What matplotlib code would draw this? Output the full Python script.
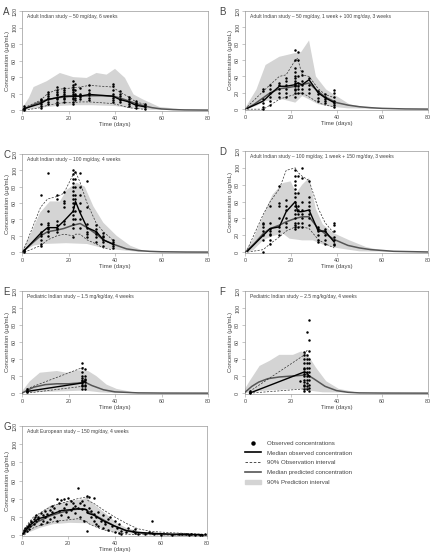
import numpy as np
import matplotlib.pyplot as plt
from matplotlib.lines import Line2D
from matplotlib.patches import Patch

plt.rcParams['font.family'] = ['Liberation Sans', 'DejaVu Sans']

# ---------------- panel A ----------------
a_hi_t = [0, 3, 5, 10.6, 16.3, 22, 27.8, 32, 36.4, 40, 44.3, 48, 52, 59, 69, 80]
a_hi = [2, 15, 28, 35, 45, 40, 39, 45, 43, 50, 39, 19, 13, 4, 1, 0]
a_lo_t = [0, 8, 15, 22, 30, 40, 48, 55, 80]
a_lo = [0, 3, 5, 6, 6, 5, 2, 0.5, 0]
a_pred_t = [0, 3, 6, 10, 15, 20, 25, 30, 35, 40, 44, 48, 52, 56, 60, 65, 70, 80]
a_pred = [0, 4, 8, 12, 15, 16.5, 17, 17.5, 17.5, 16.5, 13, 9, 5.5, 3, 1.5, 0.7, 0.3, 0.1]
a_obs_t = [1, 8, 11, 15, 18, 22, 25, 29, 39, 42, 46, 49, 53]
a_obs_med = [2, 8, 13, 15, 17, 17, 17, 19, 17, 13, 10, 6, 4]
a_obs_hi = [3, 12, 20, 25, 26, 27, 28, 30, 28, 22, 16, 10, 7]
a_obs_lo = [0, 3, 6, 8, 9, 9, 10, 10, 8, 6, 3, 2, 1]
a_points = {1: [0, 2, 3, 5], 8: [3, 5, 8, 10, 12, 13], 11: [8, 10, 13, 15, 17, 20, 22],
            15: [6, 8, 10, 13, 15, 18, 20, 22, 25, 28], 18: [10, 13, 15, 17, 19, 22, 25, 27],
            22: [8, 10, 13, 15, 17, 20, 22, 24, 26, 28, 30, 35], 23: [12, 15, 18, 20, 25, 32],
            25: [14, 16, 18, 20, 27], 29: [12, 15, 18, 21, 25, 30], 39: [10, 12, 15, 17, 20, 25, 29, 32],
            42: [10, 12, 14, 17, 20, 23], 46: [5, 8, 10, 13, 16], 49: [3, 5, 7, 9, 11], 53: [2, 4, 6, 8]}

# ---------------- panel B ----------------
b_hi_t = [0, 5, 9, 15, 21, 24.6, 28, 31, 35.5, 40, 45.7, 53, 60, 80]
b_hi = [1, 24, 54, 64, 68, 70, 84, 40, 24, 16, 6, 2, 1, 0]
b_lo_t = [0, 5, 9, 16.5, 22, 25, 28, 32, 38, 45, 80]
b_lo = [0, 4, 10, 12, 8, 16, 12, 6, 3, 1, 0]
b_pred_t = [0, 4, 8, 11, 15, 18, 22, 25, 28, 31, 35, 40, 45, 50, 55, 60, 70, 80]
b_pred = [0, 6, 14, 20, 25, 26, 28, 30, 32, 24, 15, 8, 5, 3, 1.8, 1, 0.3, 0.1]
b_obs_t = [1, 8, 11, 15, 18, 22, 23, 25, 28, 32, 35, 39]
b_obs_med = [1, 10, 18, 28, 28, 30, 32, 30, 36, 20, 14, 8]
b_obs_hi = [3, 22, 30, 40, 42, 60, 62, 42, 40, 25, 18, 14]
b_obs_lo = [0, 0, 5, 12, 15, 18, 19, 20, 15, 8, 5, 3]
b_points = {8: [0, 3, 8, 12, 22, 25], 11: [5, 10, 15, 20, 25, 30], 15: [15, 20, 25, 30, 32],
            18: [15, 20, 25, 30, 35, 38],
            22: [15, 20, 23, 25, 28, 30, 32, 35, 38, 40, 45, 50, 60, 72], 23: [20, 25, 28, 32, 40, 60, 70],
            25: [20, 25, 30, 35, 42, 47], 28: [20, 25, 30, 38], 32: [10, 14, 18, 22],
            35: [8, 10, 12, 15, 18], 39: [3, 5, 8, 10, 15, 20, 24]}

# ---------------- panel C ----------------
c_hi_t = [0, 3.4, 7.7, 12, 16.3, 19.2, 23.5, 27, 30.7, 35, 40.7, 46.5, 52, 60, 80]
c_hi = [2, 20, 48, 62, 62, 76, 85, 80, 56, 36, 20, 8, 2, 0.5, 0]
c_lo_t = [0, 5, 9, 19, 28, 33.5, 40.7, 50, 80]
c_lo = [0, 8, 10, 11, 10, 6, 3, 0.5, 0]
c_pred_t = [0, 4, 8, 11, 15, 18, 22, 25, 28, 32, 35, 39, 45, 50, 55, 60, 70, 80]
c_pred = [0, 10, 20, 25, 27, 29, 33, 35, 30, 22, 15, 10, 4, 2, 1, 0.5, 0.2, 0.1]
c_obs_t = [1, 8, 11, 15, 18, 22, 23, 24, 25, 28, 32, 35, 39]
c_obs_med = [2, 23, 30, 30, 38, 50, 62, 55, 48, 30, 25, 15, 10]
c_obs_hi = [5, 55, 65, 68, 72, 95, 98, 92, 85, 60, 35, 25, 15]
c_obs_lo = [0, 8, 15, 20, 22, 20, 22, 22, 22, 15, 10, 5, 3]
c_points = {1: [0, 2, 3], 8: [7, 10, 15, 20, 22, 25, 35, 70], 11: [20, 25, 28, 30, 33, 36, 50, 97],
            15: [25, 28, 30, 33, 38, 65, 70], 18: [35, 38, 55, 60, 62, 73],
            22: [18, 30, 35, 40, 45, 50, 55, 60, 65, 70, 75, 80, 85, 90, 95, 100],
            23: [40, 50, 60, 65, 70, 80, 90, 98], 25: [30, 40, 50, 60, 70, 80, 97],
            28: [18, 22, 25, 30, 35, 55, 87], 32: [12, 18, 22, 25, 28, 33],
            35: [8, 12, 15, 18, 20, 24], 39: [5, 8, 10, 12, 15]}

# ---------------- panel D ----------------
d_hi_t = [0, 3.5, 7.9, 12, 16.6, 20, 22.4, 25, 28, 31, 34, 38.4, 45.7, 53, 60, 70, 80]
d_hi = [1, 15, 43, 68, 82, 84, 70, 80, 88, 51, 33, 23, 14, 6, 2, 0.5, 0]
d_lo_t = [0, 3.5, 7.9, 12, 16.6, 19.5, 25, 29.7, 34, 40, 50, 80]
d_lo = [0, 2, 14, 19, 22, 16, 14, 14, 9, 5, 1, 0]
d_pred_t = [0, 1, 4, 8, 11, 15, 18, 22, 25, 28, 32, 35, 39, 45, 50, 55, 65, 80]
d_pred = [0, 2, 10, 22, 28, 32, 36, 40, 42, 42, 28, 22, 15, 8, 5, 3, 1, 0.2]
d_obs_t = [1, 8, 11, 15, 18, 22, 23, 25, 28, 32, 35, 39]
d_obs_med = [1, 20, 28, 30, 48, 60, 48, 48, 50, 25, 25, 12]
d_obs_hi = [3, 45, 60, 75, 97, 100, 95, 90, 85, 52, 35, 22]
d_obs_lo = [0, 3, 10, 18, 25, 30, 30, 30, 28, 15, 10, 5]
d_points = {8: [0, 15, 20, 25, 30, 33, 35], 11: [10, 15, 20, 22, 25, 28, 35, 55],
            15: [20, 25, 30, 40, 55, 58, 78], 18: [30, 35, 40, 50, 55, 62],
            22: [28, 30, 32, 35, 40, 45, 50, 55, 60, 65, 70, 75, 80, 85, 90, 97],
            23: [30, 35, 45, 50, 55, 70, 90], 25: [30, 35, 40, 45, 50, 60, 88, 100],
            28: [32, 40, 45, 50, 55, 60, 65, 85], 32: [12, 15, 20, 25, 28, 30],
            35: [10, 15, 20, 25, 28], 39: [8, 10, 15, 18, 25, 32, 35]}

# ---------------- panel E ----------------
e_hi_t = [0, 3.4, 7.7, 15, 19, 23.5, 28.5, 32, 36.4, 40.7, 48, 60, 80]
e_hi = [2, 14, 24, 26, 24, 27, 26, 20, 10, 5, 1, 0.2, 0]
e_lo_t = [0, 5, 15, 27, 33.5, 40, 80]
e_lo = [0, 1, 2, 3, 1, 0, 0]
e_pred_t = [0, 2, 5, 10, 15, 20, 25, 27, 30, 35, 40, 50, 60, 80]
e_pred = [0, 3, 7, 10, 11, 11, 12, 13, 9, 4, 1.5, 0.3, 0.1, 0]
e_obs_t = [2, 26, 27]
e_obs_med = [2, 12, 14]
e_obs_hi = [5, 30, 30]
e_obs_lo = [0, 8, 8]
e_points = {2: [1, 2, 3, 5], 26: [5, 8, 10, 12, 14, 16, 18, 20, 25, 30, 35],
            27: [5, 8, 10, 13, 15, 17, 20, 28]}

# ---------------- panel F ----------------
f_hi_t = [0, 2, 6.4, 10.8, 15, 21, 24.6, 27.5, 31, 35.5, 41, 48.6, 60, 80]
f_hi = [5, 14, 32, 38, 45, 45, 49, 45, 30, 14, 5, 1, 0.2, 0]
f_lo_t = [0, 2, 9, 24, 28, 34, 80]
f_lo = [0, 1, 3, 5, 3, 1, 0]
f_pred_t = [0, 3, 6, 10, 15, 20, 25, 27, 30, 35, 40, 45, 50, 60, 80]
f_pred = [1, 8, 13, 17, 19, 20, 21, 22, 17, 8, 3, 1, 0.3, 0.1, 0]
f_obs_t = [2, 26, 27, 28]
f_obs_med = [0, 25, 24, 20]
f_obs_hi = [2, 45, 50, 50]
f_obs_lo = [0, 5, 5, 4]
f_points = {2: [0, 1, 2], 24: [14], 26: [3, 5, 8, 10, 13, 15, 20, 22, 25, 28, 30, 35, 40, 45, 48],
            27: [5, 8, 12, 15, 20, 25, 30, 35, 40, 45, 72],
            28: [3, 6, 10, 15, 20, 25, 30, 35, 40, 50, 62, 86]}

# ---------------- panel G ----------------
g_hi_t = [0, 3.5, 7.8, 12, 16.4, 20.7, 25, 28, 32, 36.5, 40.9, 45, 51, 59.6, 70, 80]
g_hi = [2, 12, 24, 32, 35, 38, 39, 41, 32, 23, 13.5, 8, 4, 2, 0.7, 0.3]
g_lo_t = [0, 2, 7.8, 13.5, 20.7, 28, 33.5, 39, 45, 55, 80]
g_lo = [0, 2, 8, 12, 13.5, 13, 8, 4, 2, 0.5, 0]
g_pred_t = [0, 3, 7, 12, 17, 22, 27, 30, 35, 40, 45, 50, 55, 60, 70, 80]
g_pred = [0, 8, 15, 21, 25, 28, 29, 24, 17, 10, 5, 2.5, 1.5, 0.8, 0.3, 0.1]
g_obs_t = [1, 3, 5, 7, 10, 14, 17, 21, 24, 28, 28.5, 31, 35, 40, 45, 50, 56, 65, 70, 78]
g_obs_med = [3, 10, 14, 18, 20, 24, 27, 28, 29, 28, 24, 22, 16, 10, 5, 3, 2, 1, 1, 0.5]
g_obs_hi = [6, 14, 20, 23, 28, 33, 35, 38, 40, 42, 38, 35, 28, 20, 13, 7, 4, 2.5, 2, 1]
g_obs_lo = [0, 5, 8, 10, 12, 15, 16, 17, 18, 15, 13, 10, 6, 3, 1, 0.5, 0.3, 0, 0, 0]
g_pts_t = [0.5, 1, 1, 1.5, 2, 2, 2.5, 3, 3, 3.5, 4, 4, 5, 5, 5.5, 6, 6, 7, 7, 8, 8, 9, 9, 10, 10,
           11, 11, 12, 12, 13, 13, 14, 14, 15, 15, 16, 16, 17, 17, 18, 18, 19, 19, 20, 20, 21, 21,
           22, 22, 23, 23, 24, 24, 25, 25, 26, 26, 27, 27, 28, 28, 28, 29, 29, 30, 30, 31, 31, 31,
           32, 32, 33, 33, 34, 35, 35, 36, 36, 37, 37, 38, 39, 40, 40, 41, 42, 42, 43, 43, 45, 46,
           48, 49, 49, 50, 53, 55, 56, 56, 57, 60, 65, 68, 69, 71, 72, 73, 75, 77, 78, 79]
g_pts_c = [2, 4, 6, 8, 5, 9, 10, 7, 12, 10, 14, 16, 12, 18, 20, 15, 22, 18, 20, 12, 24, 16, 22, 20, 26,
           14, 23, 18, 28, 25, 32, 20, 30, 15, 40, 26, 35, 22, 39, 30, 40, 25, 34, 20, 41, 28, 38,
           30, 35, 24, 32, 52, 30, 20, 35, 29, 38, 16, 33, 43, 25, 5, 42, 30, 20, 26, 15, 23, 41,
           12, 20, 10, 25, 16, 8, 22, 12, 14, 6, 18, 20, 10, 3, 15, 8, 2, 12, 5, 1,
           3, 8, 4, 2, 7, 1, 1, 3, 2, 16, 1, 0.5, 0.5, 1, 1.5, 1, 0.5, 1, 0.3, 0.5, 0.2, 1]

titles = ['Adult Indian study \u2013 50 mg/day, 6 weeks',
          'Adult Indian study \u2013 50 mg/day, 1 week + 100 mg/day, 3 weeks',
          'Adult Indian study \u2013 100 mg/day, 4 weeks',
          'Adult Indian study \u2013 100 mg/day, 1 week + 150 mg/day, 3 weeks',
          'Pediatric Indian study \u2013 1.5 mg/kg/day, 4 weeks',
          'Pediatric Indian study \u2013 2.5 mg/kg/day, 4 weeks',
          'Adult European study \u2013 150 mg/day, 4 weeks']
letters = ['A', 'B', 'C', 'D', 'E', 'F', 'G']

W, H = 432, 557
# axes boxes in pixels: left, top, right, bottom
boxes = [(22, 11, 208, 111), (245, 11, 428, 110),
         (22, 154, 208, 253), (245, 151, 428, 253),
         (22, 291, 208, 394), (245, 291, 428, 394),
         (22, 426, 207, 536)]

BAND = '#d4d4d4'
PRED = '#555555'
TXT = '#444444'
SPINE = '#999999'

fig = plt.figure(figsize=(W / 100, H / 100), dpi=100)


def draw(i, hi_t, hi, lo_t, lo, pred_t, pred, obs_t, obs_med, obs_hi, obs_lo, pts_t, pts_c):
    l, t, r, b = boxes[i]
    ax = fig.add_axes([l / W, 1 - b / H, (r - l) / W, (b - t) / H])
    ax.fill(np.r_[hi_t, lo_t[::-1]], np.r_[hi, lo[::-1]], color=BAND, lw=0, zorder=1)
    ax.plot(pred_t, pred, color=PRED, lw=1.1, zorder=3)
    ax.plot(obs_t, obs_hi, color='#333333', lw=0.5, ls=(0, (3, 2)), zorder=3)
    ax.plot(obs_t, obs_lo, color='#333333', lw=0.5, ls=(0, (3, 2)), zorder=3)
    ax.plot(obs_t, obs_med, color='black', lw=1.0, zorder=4)
    ax.scatter(pts_t, pts_c, s=3.2, color='black', lw=0, zorder=5, clip_on=False)
    ax.set_xlim(0, 80)
    ax.set_ylim(-1, 120)
    ax.set_xticks([0, 20, 40, 60, 80])
    ax.set_yticks([0, 20, 40, 60, 80, 100, 120])
    ax.tick_params(labelsize=3.9, colors=SPINE, labelcolor=TXT, length=2, width=0.4, pad=1.5)
    for lab in ax.get_yticklabels():
        lab.set_rotation(90)
        lab.set_va('center')
    for s in ax.spines.values():
        s.set_color(SPINE)
        s.set_linewidth(0.5)
    ax.set_xlabel('Time (days)', fontsize=4.3, color=TXT, labelpad=1)
    ax.set_ylabel('Concentration (\u00b5g/mL)', fontsize=4.3, color=TXT, labelpad=1.5)
    ax.text(0.025, 0.97, titles[i], transform=ax.transAxes, fontsize=3.6, color=TXT,
            ha='left', va='top')
    lx = 3 if l < 200 else 219
    fig.text(lx / W, 1 - (t - 4) / H, letters[i], fontsize=7, color=TXT, ha='left', va='top')
    return ax


def flat(points):
    ts, cs = [], []
    for k, v in points.items():
        ts += [k] * len(v)
        cs += v
    return ts, cs


panels = [
    (a_hi_t, a_hi, a_lo_t, a_lo, a_pred_t, a_pred, a_obs_t, a_obs_med, a_obs_hi, a_obs_lo, *flat(a_points)),
    (b_hi_t, b_hi, b_lo_t, b_lo, b_pred_t, b_pred, b_obs_t, b_obs_med, b_obs_hi, b_obs_lo, *flat(b_points)),
    (c_hi_t, c_hi, c_lo_t, c_lo, c_pred_t, c_pred, c_obs_t, c_obs_med, c_obs_hi, c_obs_lo, *flat(c_points)),
    (d_hi_t, d_hi, d_lo_t, d_lo, d_pred_t, d_pred, d_obs_t, d_obs_med, d_obs_hi, d_obs_lo, *flat(d_points)),
    (e_hi_t, e_hi, e_lo_t, e_lo, e_pred_t, e_pred, e_obs_t, e_obs_med, e_obs_hi, e_obs_lo, *flat(e_points)),
    (f_hi_t, f_hi, f_lo_t, f_lo, f_pred_t, f_pred, f_obs_t, f_obs_med, f_obs_hi, f_obs_lo, *flat(f_points)),
    (g_hi_t, g_hi, g_lo_t, g_lo, g_pred_t, g_pred, g_obs_t, g_obs_med, g_obs_hi, g_obs_lo, g_pts_t, g_pts_c),
]
for i, p in enumerate(panels):
    draw(i, *[np.asarray(x, dtype=float) for x in p])

# legend in the empty bottom-right slot
handles = [Line2D([], [], ls='none', marker='o', ms=2.2, color='black'),
           Line2D([], [], color='black', lw=1.2),
           Line2D([], [], color='#333333', lw=0.6, ls=(0, (3, 2))),
           Line2D([], [], color=PRED, lw=1.2),
           Patch(color=BAND)]
labels = ['Observed concentrations', 'Median observed concentration', '90% Observation interval',
          'Median predicted concentration', '90% Prediction interval']
leg = fig.legend(handles, labels, loc='upper left', bbox_to_anchor=(243 / W, 1 - 438 / H),
                 frameon=False, fontsize=4.4, handlelength=2.6, handletextpad=0.9,
                 labelspacing=0.75, borderaxespad=0)
for txt in leg.get_texts():
    txt.set_color(TXT)

fig.savefig('out.png', dpi=100)
